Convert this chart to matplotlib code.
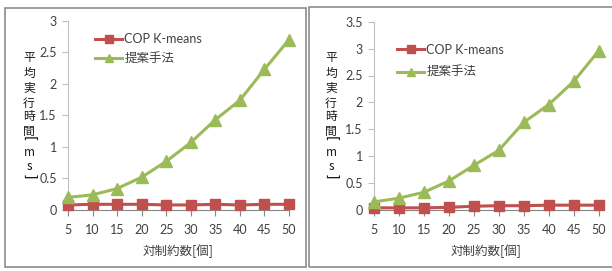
import matplotlib.pyplot as plt
from matplotlib.patches import Rectangle

plt.rcParams['font.family'] = ['Lato', 'Noto Sans CJK JP', 'DejaVu Sans']

# data
constraints = [5, 10, 15, 20, 25, 30, 35, 40, 45, 50]
cop_left = [0.08, 0.09, 0.09, 0.09, 0.08, 0.08, 0.09, 0.08, 0.09, 0.09]
prop_left = [0.20, 0.24, 0.34, 0.52, 0.77, 1.07, 1.43, 1.74, 2.23, 2.70]
cop_right = [0.04, 0.04, 0.04, 0.05, 0.07, 0.08, 0.08, 0.09, 0.09, 0.09]
prop_right = [0.15, 0.22, 0.33, 0.54, 0.83, 1.11, 1.63, 1.96, 2.39, 2.96]
yticks_left = [0, 0.5, 1, 1.5, 2, 2.5, 3]
yticks_right = [0, 0.5, 1, 1.5, 2, 2.5, 3, 3.5]
ylabel_chars = ['平', '均', '実', '行', '時', '間', '[', 'm', 's', ']']

W, H = 612, 271
RED = '#C0504D'
GREEN = '#9BBB59'
TXT = '#404040'
JP = ['Noto Sans CJK JP', 'DejaVu Sans']

fig = plt.figure(figsize=(W / 100, H / 100), dpi=100)


def px_axes(x0, x1, y0, y1):
    # pixel box (top-left origin) -> figure axes
    return fig.add_axes([x0 / W, 1 - y1 / H, (x1 - x0) / W, (y1 - y0) / H])


def stacked_ylabel(xc, ys):
    # Excel-style vertical label, one glyph per row, brackets turned
    for ch, y in zip(ylabel_chars, ys):
        if ch in '[]':
            fig.text(xc / W, 1 - y / H, ch, ha='center', va='center',
                     fontsize=10, color='#1a1a1a', rotation=-90,
                     family=['DejaVu Sans'])
        else:
            fig.text(xc / W, 1 - y / H, ch, ha='center', va='center',
                     fontsize=8.5, color='#1a1a1a', family=JP)


def panel(ax, cop, prop, yticks, ymax, leg_xy, leg_space):
    ax.plot(constraints, cop, color=RED, lw=2.2, marker='s', ms=7,
            mec=RED, label='COP K-means', clip_on=False, zorder=3)
    ax.plot(constraints, prop, color=GREEN, lw=2.2, marker='^', ms=8,
            mec=GREEN, label='提案手法', clip_on=False, zorder=3)
    ax.set_xlim(5, 50)
    ax.set_ylim(0, ymax)
    ax.set_xticks(constraints)
    ax.set_yticks(yticks)
    ax.set_yticklabels([('%g' % t) for t in yticks])
    for s in ['top', 'right']:
        ax.spines[s].set_visible(False)
    ax.spines['left'].set_color('#BFBFBF')
    ax.spines['bottom'].set_color('#868686')
    ax.tick_params(axis='y', length=4, color='#BFBFBF', labelsize=9,
                   labelcolor=TXT, pad=4)
    ax.tick_params(axis='x', length=4, color='#868686', labelsize=9,
                   labelcolor=TXT, pad=6)
    ax.set_xlabel('対制約数[個]', fontsize=9, color=TXT, labelpad=6,
                  family=JP)
    ax.legend(loc='upper left', bbox_to_anchor=leg_xy, frameon=False,
              handlelength=2.2, handletextpad=0.15, markerscale=0.8,
              labelspacing=leg_space, borderaxespad=0, borderpad=0,
              labelcolor=TXT,
              prop={'family': ['Lato', 'Noto Sans CJK JP'], 'size': 9})


ax1 = px_axes(68, 289, 20.7, 210)
panel(ax1, cop_left, prop_left, yticks_left, 3, (0.122, 0.935), 0.6)
stacked_ylabel(29, [58, 73, 88, 103, 117, 131, 139, 152, 167, 177])

ax2 = px_axes(374, 598.7, 21.7, 210)
panel(ax2, cop_right, prop_right, yticks_right, 3.5, (0.102, 0.884), 0.84)
stacked_ylabel(331, [58, 73, 88, 103, 117, 131, 139, 152, 167, 177])

# outer frames around each chart
fig.patches.append(Rectangle((5 / W, 1 - 267 / H), 301 / W, 259 / H,
                             transform=fig.transFigure, fill=False,
                             ec='#8C8C8C', lw=1.2))
fig.patches.append(Rectangle((309 / W, 1 - 267 / H), 320 / W, 260 / H,
                             transform=fig.transFigure, fill=False,
                             ec='#8C8C8C', lw=1.2))

fig.savefig('out.png', dpi=100)
